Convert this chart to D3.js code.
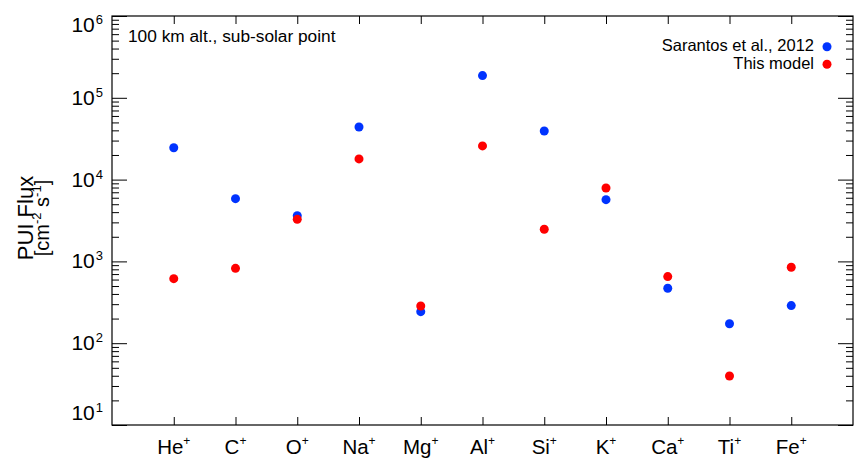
<!DOCTYPE html>
<html><head><meta charset="utf-8">
<script src="https://cdn.jsdelivr.net/npm/d3@7"></script>
<style>body{margin:0;background:#fff}svg{display:block}text{font-family:"Liberation Sans",Arial,Helvetica,sans-serif;fill:#000}</style>
</head><body><svg id="c" width="854" height="461"></svg>
<script>
const ions = ["He","C","O","Na","Mg","Al","Si","K","Ca","Ti","Fe"];
const sarantos = [24500, 5850, 3620, 44000, 243, 187000, 39300, 5690, 470, 173, 288];
const thisModel = [615, 823, 3270, 17900, 285, 25800, 2470, 7890, 652, 39.7, 847];
const yMajor = [1, 2, 3, 4, 5, 6];
const legendNames = ["Sarantos et al., 2012", "This model"];
const colors = ["#0033ff", "#ff0000"];

const L = 112, R = 853, T = 16, B = 425;
const svg = d3.select("#c");
const x = d3.scaleLinear().domain([0, 12]).range([L, R]);
const y = d3.scaleLog().domain([10, 1e6]).range([B, T]);

const minors = [];
for (let e = 1; e < 6; e++) for (let m = 2; m <= 9; m++) minors.push(m * Math.pow(10, e));
const majors = yMajor.map(e => Math.pow(10, e));
const xt = d3.range(1, ions.length + 1);

function styleAxis(g){ g.select(".domain").remove(); g.selectAll("line").attr("stroke","#000").attr("stroke-width",1); g.selectAll("text").remove(); }

svg.append("g").attr("transform",`translate(${L},0)`).call(d3.axisLeft(y).tickValues(minors).tickSize(-7)).call(styleAxis);
svg.append("g").attr("transform",`translate(${L},0)`).call(d3.axisLeft(y).tickValues(majors).tickSize(-15)).call(styleAxis);
svg.append("g").attr("transform",`translate(${R},0)`).call(d3.axisRight(y).tickValues(minors).tickSize(-7)).call(styleAxis);
svg.append("g").attr("transform",`translate(${R},0)`).call(d3.axisRight(y).tickValues(majors).tickSize(-15)).call(styleAxis);
svg.append("g").attr("transform",`translate(0,${B})`).call(d3.axisBottom(x).tickValues(xt).tickSize(-8)).call(styleAxis);
svg.append("g").attr("transform",`translate(0,${T})`).call(d3.axisTop(x).tickValues(xt).tickSize(-8)).call(styleAxis);

svg.append("rect").attr("x",L).attr("y",T).attr("width",R-L).attr("height",B-T)
  .attr("fill","none").attr("stroke","#000").attr("stroke-width",1.2);

// y tick labels
yMajor.forEach(e => {
  let yy = y(Math.pow(10, e)) + 7;
  yy = Math.max(31.5, Math.min(420, yy));
  const t = svg.append("text").attr("x", 103).attr("y", yy).attr("text-anchor","end").style("font-size","21px");
  t.append("tspan").text("10");
  t.append("tspan").attr("dy", -8).attr("dx", 1).style("font-size","13px").text(e);
});

// x tick labels
ions.forEach((n, i) => {
  const t = svg.append("text").attr("x", x(i + 1)).attr("y", 454).attr("text-anchor","middle").style("font-size","20.5px");
  t.append("tspan").text(n);
  t.append("tspan").attr("dy", -9).style("font-size","12px").text("+");
});

// y title
const yt = svg.append("g").attr("transform",`translate(0,218) rotate(-90)`);
yt.append("text").attr("x",0).attr("y",33).attr("text-anchor","middle").style("font-size","22px").text("PUI Flux");
const t2 = yt.append("text").attr("x",0).attr("y",49).attr("text-anchor","middle").style("font-size","20px");
t2.append("tspan").text("[cm");
t2.append("tspan").attr("dy",-8).style("font-size","13px").text("-2");
t2.append("tspan").attr("dy",8).text(" s");
t2.append("tspan").attr("dy",-8).style("font-size","13px").text("-1");
t2.append("tspan").attr("dy",8).text("]");

// annotation
svg.append("text").attr("x",128).attr("y",42).style("font-size","17.3px").text("100 km alt., sub-solar point");

// legend
legendNames.forEach((n, i) => {
  svg.append("text").attr("x",814).attr("y",51 + i*18).attr("text-anchor","end").style("font-size","16.5px").text(n);
  svg.append("circle").attr("cx",827).attr("cy",46.7 + i*17.6).attr("r",4.5).attr("fill",colors[i]);
});

// points
[sarantos, thisModel].forEach((s, k) => {
  svg.append("g").selectAll("circle").data(s).join("circle")
    .attr("cx",(d,i)=>x(i+1)).attr("cy",d=>y(d)).attr("r",4.5).attr("fill",colors[k]);
});
</script></body></html>
